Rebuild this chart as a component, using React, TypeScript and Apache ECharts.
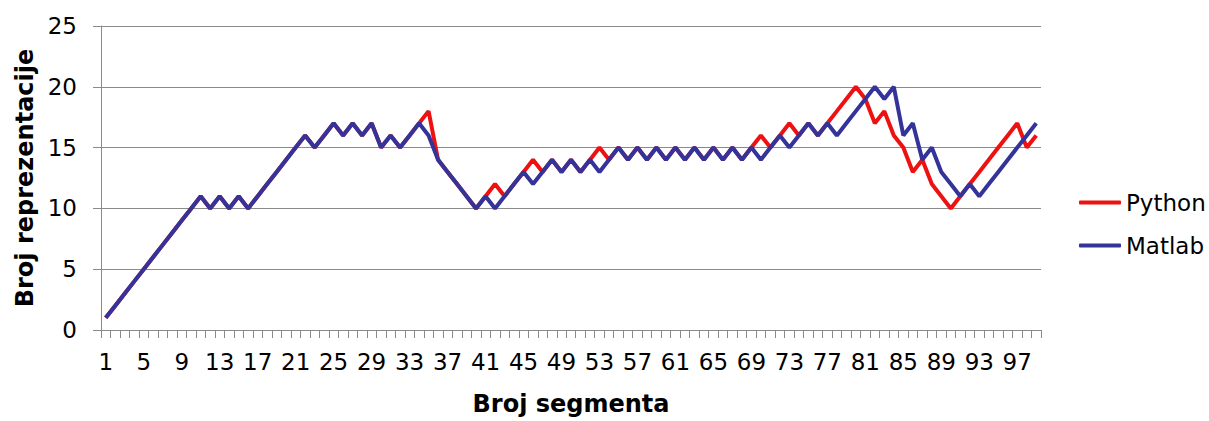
import React, { useEffect, useRef } from "react";
import * as echarts from "echarts";

// Segment numbers along the x axis
const segments: string[] = Array.from({ length: 99 }, (_, i) => String(i + 1));

// Number of representations per segment
const python: number[] = [
  1, 2, 3, 4, 5, 6, 7, 8, 9, 10, 11,
  10, 11, 10, 11, 10, 11,
  12, 13, 14, 15, 16,
  15, 16, 17, 16, 17, 16, 17,
  15, 16, 15, 16, 17,
  18,
  14, 13, 12, 11, 10,
  11, 12, 11, 12, 13, 14, 13,
  14, 13, 14, 13, 14,
  15,
  14,
  15, 14, 15, 14, 15, 14, 15, 14, 15, 14, 15, 14, 15, 14, 15,
  16, 15, 16, 17, 16, 17, 16, 17,
  18, 19, 20, 19, 17, 18, 16, 15, 13, 14, 12, 11, 10, 11, 12, 13, 14, 15, 16, 17, 15, 16,
];

const matlab: number[] = [
  1, 2, 3, 4, 5, 6, 7, 8, 9, 10, 11,
  10, 11, 10, 11, 10, 11,
  12, 13, 14, 15, 16,
  15, 16, 17, 16, 17, 16, 17,
  15, 16, 15, 16, 17,
  16,
  14, 13, 12, 11, 10,
  11, 10, 11, 12, 13, 12, 13,
  14, 13, 14, 13, 14,
  13,
  14,
  15, 14, 15, 14, 15, 14, 15, 14, 15, 14, 15, 14, 15, 14, 15,
  14, 15, 16, 15, 16, 17, 16, 17,
  16, 17, 18, 19, 20, 19, 20, 16, 17, 14, 15, 13, 12, 11, 12, 11, 12, 13, 14, 15, 16, 17,
];

const yTicks = { min: 0, max: 25, interval: 5 };

const FONT = "'DejaVu Sans', Verdana, sans-serif";
const GRAY = "#8a8a8a";

export default function App() {
  const ref = useRef<HTMLDivElement>(null);

  useEffect(() => {
    if (!ref.current) return;
    const chart = echarts.init(ref.current, null, { renderer: "svg" });
    chart.setOption({
      animation: false,
      backgroundColor: "#ffffff",
      textStyle: { fontFamily: FONT },
      grid: { left: 101, right: 168, top: 26, bottom: 90, containLabel: false },
      legend: {
        orient: "vertical",
        left: 1074,
        top: 186,
        itemWidth: 42,
        itemHeight: 4,
        itemGap: 20,
        icon: "roundRect",
        textStyle: { fontFamily: FONT, fontSize: 23, color: "#000" },
        data: ["Python", "Matlab"],
      },
      xAxis: {
        type: "category",
        data: segments,
        boundaryGap: true,
        name: "Broj segmenta",
        nameLocation: "middle",
        nameGap: 62,
        nameTextStyle: { fontFamily: FONT, fontSize: 24, fontWeight: "bold", color: "#000" },
        axisLine: { lineStyle: { color: GRAY, width: 1 } },
        axisTick: { show: true, interval: 0, length: 8, lineStyle: { color: GRAY } },
        axisLabel: { interval: 3, margin: 20, fontSize: 23, color: "#000", fontFamily: FONT },
        splitLine: { show: false },
      },
      yAxis: {
        type: "value",
        min: yTicks.min,
        max: yTicks.max,
        interval: yTicks.interval,
        name: "Broj reprezentacije",
        nameLocation: "middle",
        nameGap: 64,
        nameTextStyle: { fontFamily: FONT, fontSize: 24, fontWeight: "bold", color: "#000" },
        axisLine: { show: true, lineStyle: { color: GRAY, width: 1 } },
        axisTick: { show: true, length: 8, lineStyle: { color: GRAY } },
        axisLabel: { margin: 24, fontSize: 23, color: "#000", fontFamily: FONT },
        splitLine: { show: true, lineStyle: { color: GRAY, width: 1 } },
      },
      series: [
        {
          name: "Python",
          type: "line",
          data: python,
          showSymbol: false,
          symbol: "none",
          lineStyle: { color: "#ee1111", width: 4 },
          itemStyle: { color: "#ee1111" },
          z: 2,
        },
        {
          name: "Matlab",
          type: "line",
          data: matlab,
          showSymbol: false,
          symbol: "none",
          lineStyle: { color: "#333399", width: 4 },
          itemStyle: { color: "#333399" },
          z: 3,
        },
      ],
    });
    return () => chart.dispose();
  }, []);

  return (
    <div
      ref={ref}
      style={{ position: "fixed", left: 0, top: 0, width: 1209, height: 421 }}
    />
  );
}
